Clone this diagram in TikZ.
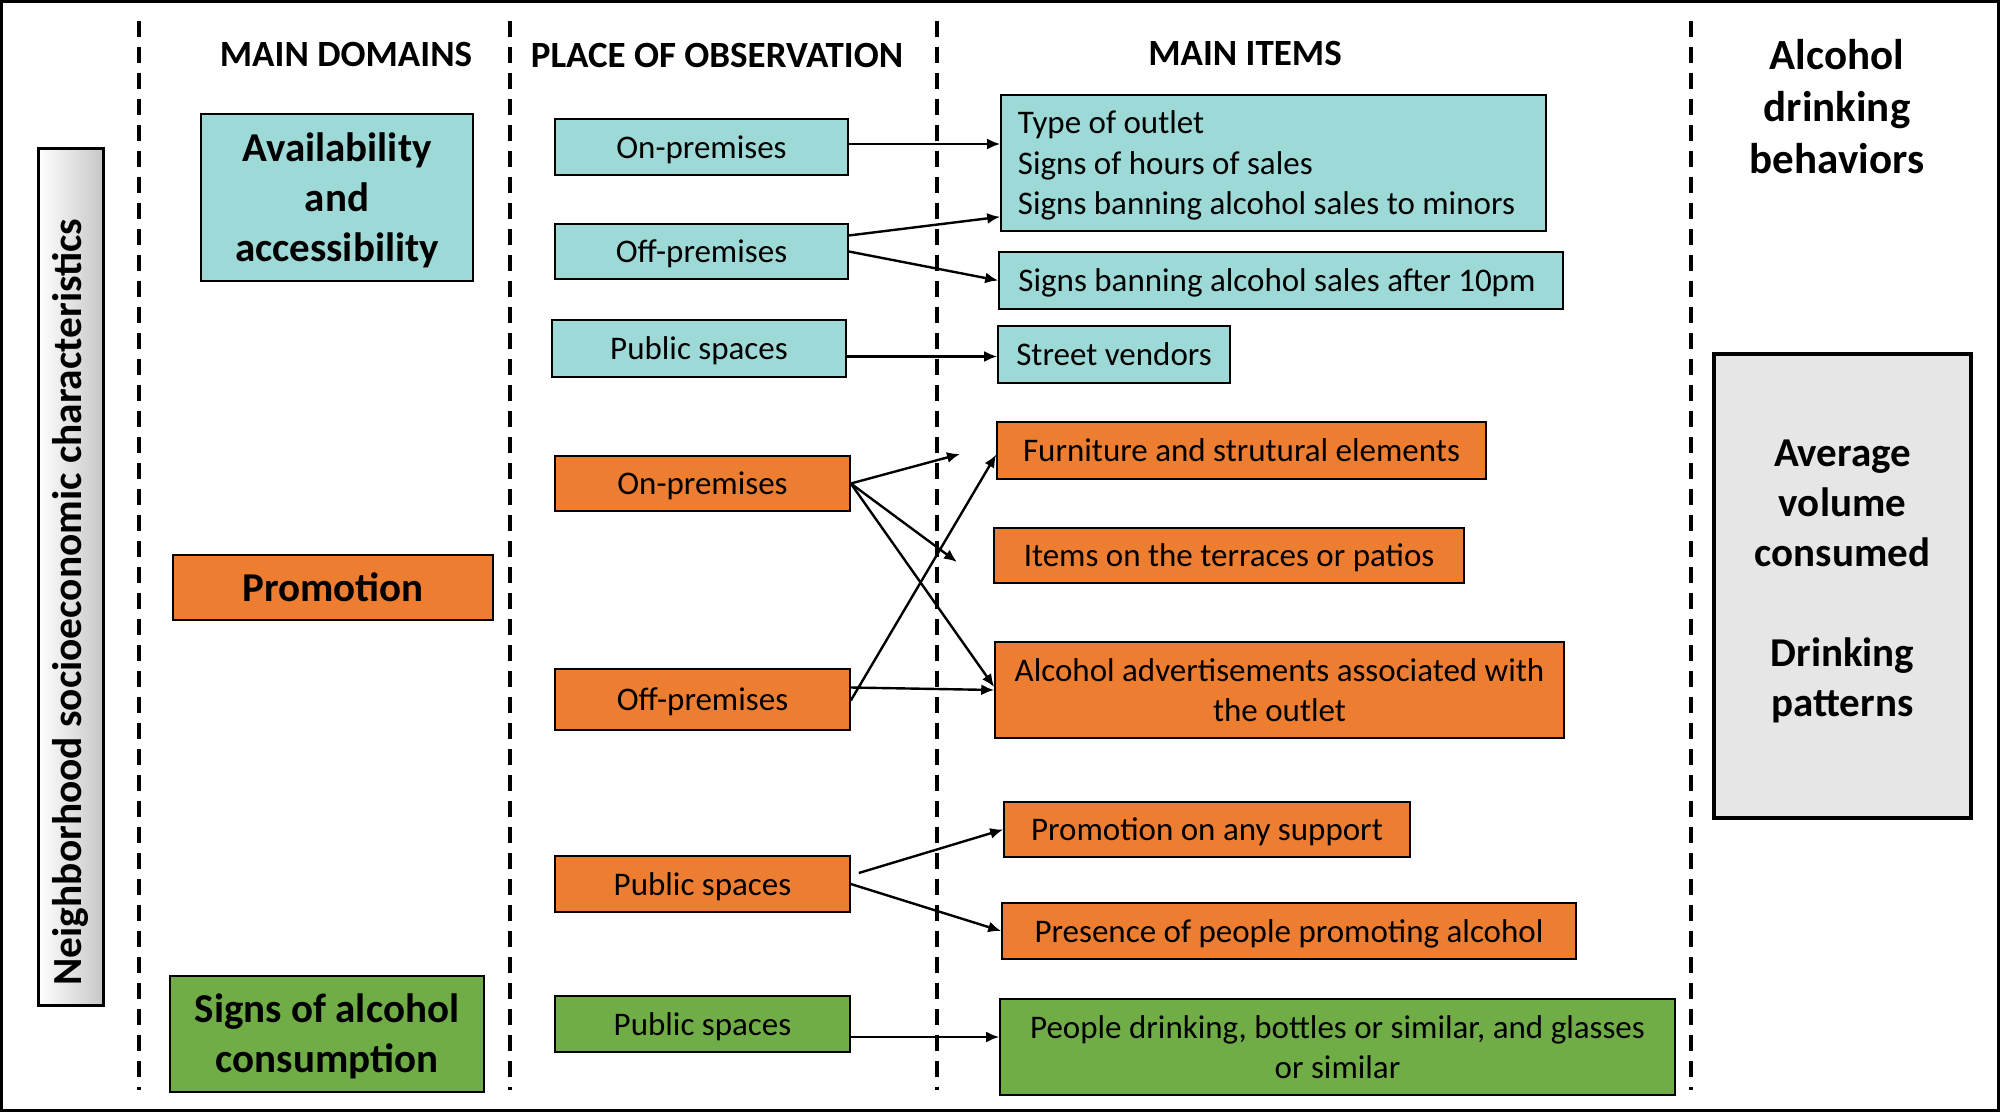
\documentclass[tikz,border=0pt]{standalone}
\usepackage{fontspec}
\setmainfont{Carlito}
\usetikzlibrary{arrows.meta,calc}
\definecolor{tealc}{HTML}{9DD9D7}
\definecolor{orangec}{HTML}{ED7D31}
\definecolor{greenc}{HTML}{70AD47}
\definecolor{grayc}{HTML}{E6E6E6}
\newcommand\ws{\rule[-0.26em]{0pt}{1.2em}}
\AtBeginDocument{\lineskiplimit=-5pt\relax}
\begin{document}
\begin{tikzpicture}[x=0.5pt,y=-0.5pt,
  box/.style={draw=black, line width=0.8pt, inner sep=0pt, align=center,
    font=\fontsize{16.5}{20.13}\selectfont},
  tbox/.style={box, fill=tealc},
  obox/.style={box, fill=orangec},
  gbox/.style={box, fill=greenc},
  dom/.style={draw=black, line width=0.8pt, inner sep=0pt, align=center,
    font=\fontsize{20.5}{25.01}\selectfont\bfseries},
  hdr/.style={inner sep=0pt, font=\fontsize{18.5}{22}\selectfont\bfseries},
  arr/.style={-{Latex[length=6.5pt,width=5.5pt]}, line width=1.2pt},
  dashline/.style={line width=2pt, dash pattern=on 8pt off 5pt},
  wh/.style 2 args={minimum width=#1, minimum height=#2}]
\useasboundingbox (0,0) rectangle (2000,1112);
\draw[line width=1.6pt] (1.6,1.6) rectangle (1998.4,1110.4);

% dashed separators
\draw[dashline] (139,21) -- (139,1090);
\draw[dashline] (510,21) -- (510,1090);
\draw[dashline] (937,21) -- (937,1090);
\draw[dashline] (1691,21) -- (1691,1090);

% headers
\node[hdr] (h1) at (346,54) {MAIN DOMAINS};
\node[hdr] (h2) at (717,55) {PLACE OF OBSERVATION};
\node[hdr] (h3) at (1245,53) {MAIN ITEMS};
\node[inner sep=0pt, align=center, font=\fontsize{21.5}{26}\selectfont\bfseries] (h4) at (1837,107) {Alcohol\\drinking\\behaviors};

% left rotated box
\node[draw=black, line width=1.5pt, inner sep=0pt, left color=white, right color=black!22, wh={32.5pt}{428pt}] (nbh) at (70.5,577) {};
\node[rotate=90, inner sep=0pt, font=\fontsize{20.7}{24}\selectfont\bfseries] (nbht) at (70,602) {Neighborhood socioeconomic characteristics};

% domains
\node[dom, fill=tealc, wh={136pt}{83.5pt}] (avail) at (337,197.5) {\ws Availability\\\ws and\\\ws accessibility};
\node[dom, fill=orangec, wh={160pt}{32.5pt}] (promo) at (333,587.5) {\ws Promotion};
\node[dom, fill=greenc, wh={157pt}{58pt}] (signs) at (327,1034) {\ws Signs of alcohol\\\ws consumption};

% places
\node[tbox, wh={146.5pt}{28pt}] (onA) at (701.5,147) {\ws On-premises};
\node[tbox, wh={146.5pt}{27.5pt}] (offA) at (701.5,251.5) {\ws Off-premises};
\node[tbox, wh={147pt}{28.5pt}] (pubA) at (699,348.5) {\ws Public spaces};
\node[obox, wh={147.5pt}{27.5pt}] (onP) at (702.5,483.5) {\ws On-premises};
\node[obox, wh={147.5pt}{30.5pt}] (offP) at (702.5,699.5) {\ws Off-premises};
\node[obox, wh={147.5pt}{28pt}] (pubP) at (702.5,884) {\ws Public spaces};
\node[gbox, wh={147.5pt}{28pt}] (pubG) at (702.5,1024) {\ws Public spaces};

% items
\node[tbox, align=left, wh={272.5pt}{68pt}] (type) at (1273.5,163) {\ws Type of outlet\\\ws Signs of hours of sales\\\ws Signs banning alcohol sales to minors\hspace*{7pt}};
\node[tbox, wh={282pt}{28.5pt}] (ten) at (1281,280.5) {\ws Signs banning alcohol sales after 10pm\hspace*{4pt}};
\node[tbox, wh={116pt}{28.5pt}] (street) at (1114,354.5) {\ws Street vendors};
\node[obox, wh={244.5pt}{28.5pt}] (furn) at (1241.5,450.5) {\ws Furniture and strutural elements};
\node[obox, wh={235pt}{27.5pt}] (terr) at (1229,555.5) {\ws Items on the terraces or patios};
\node[obox, wh={284.5pt}{48pt}] (ads) at (1279.5,690) {\ws Alcohol advertisements associated with\\\ws the outlet};
\node[obox, wh={203pt}{27.5pt}] (supp) at (1207,829.5) {\ws Promotion on any support};
\node[obox, wh={287pt}{28pt}] (pres) at (1289,931) {\ws Presence of people promoting alcohol};
\node[gbox, wh={337.5pt}{48pt}] (drink) at (1337.5,1047) {\ws People drinking, bottles or similar, and glasses\\\ws or similar};

% outcome box
\node[draw=black, line width=2pt, fill=grayc, inner sep=0pt, align=center,
  font=\fontsize{20.5}{25}\selectfont\bfseries, wh={128.5pt}{232pt}] (out) at (1842.5,586)
  {Average\\volume\\consumed\\[25pt]Drinking\\patterns\\[-17pt]\mbox{}};

% connectors
\coordinate (a1) at ([yshift=1.5pt]onA.east);
\draw[arr] (a1) -- (a1 -| type.west);
\draw[arr] ([yshift=8pt]offA.east) -- ([yshift=7.5pt]type.south west);
\draw[arr] (offA.east) -- (ten.west);
\coordinate (a4) at ([yshift=-4pt]pubA.east);
\draw[arr] (a4) -- (a4 -| street.west);

\coordinate (f1) at (960,454);
\coordinate (f2) at (957,562);
\draw[arr] (onP.east) -- (f1);
\draw[arr] (onP.east) -- (f2);
\draw[arr] (onP.east) -- ([yshift=1.5pt]ads.west);
\draw[arr] ([yshift=-0.5pt]offP.east) -- ([yshift=-2pt]furn.west);
\draw[arr] ([yshift=6pt]offP.east) -- (ads.west);
\draw[arr] ([shift={(4pt,5.5pt)}]pubP.east) -- (supp.west);
\draw[arr] (pubP.east) -- (pres.west);
\coordinate (g0) at ([yshift=-6.5pt]pubG.east);
\draw[arr] (g0) -- (g0 -| drink.west);
\end{tikzpicture}
\end{document}
